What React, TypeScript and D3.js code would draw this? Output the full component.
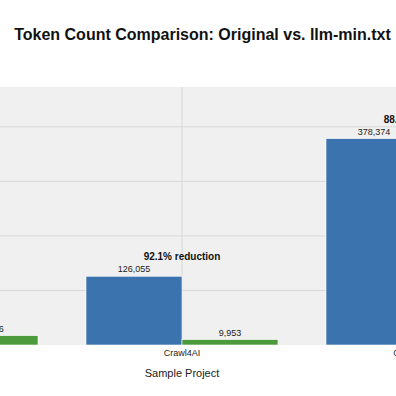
import React from "react";
import * as d3 from "d3";

const categories = ["Agno Framework", "Crawl4AI", "ComfyUI-Core"];
const originalTokens = [213840, 126055, 378374];
const minTokens = [17136, 9953, 43520];
const yTicks = [0, 100000, 200000, 300000, 400000];
const seriesColors = ["#3a73ae", "#4d9a3c"];

const W = 396;
const H = 396;

export default function App() {
  const plotTop = 87;
  const plotBottom = 345;
  const x = d3.scalePoint<string>().domain(categories).range([-58, 422]);
  const y = d3.scaleLinear().domain([0, 473000]).range([plotBottom, plotTop]);
  const barW = 96;
  const fmt = d3.format(",");
  const font = "'Liberation Sans', Arial, Helvetica, sans-serif";

  return (
    <svg
      width={W}
      height={H}
      style={{ position: "absolute", left: 0, top: 0, display: "block" }}
      fontFamily={font}
    >
      <rect x={0} y={0} width={W} height={H} fill="#ffffff" />
      <rect x={-200} y={plotTop} width={W + 400} height={plotBottom - plotTop} fill="#f0f0f0" />
      {yTicks.slice(1).map((t) => (
        <line key={t} x1={-200} x2={W + 200} y1={y(t)} y2={y(t)} stroke="#d8d8d8" strokeWidth={1} />
      ))}
      {categories.map((c) => (
        <line key={c} x1={x(c)} x2={x(c)} y1={plotTop} y2={plotBottom} stroke="#d8d8d8" strokeWidth={1} />
      ))}
      {categories.map((c, i) => {
        const cx = x(c) as number;
        const o = originalTokens[i];
        const m = minTokens[i];
        const red = ((1 - m / o) * 100).toFixed(1);
        const topY = Math.min(y(o), y(m));
        return (
          <g key={c}>
            <rect x={cx - barW} y={y(o)} width={barW} height={plotBottom - y(o)} fill={seriesColors[0]} stroke="#ffffff" strokeWidth={0.6} />
            <rect x={cx} y={y(m)} width={barW} height={plotBottom - y(m)} fill={seriesColors[1]} stroke="#ffffff" strokeWidth={0.6} />
            <text x={cx - barW / 2} y={y(o) - 4} textAnchor="middle" fontSize={9} fill="#222">
              {fmt(o)}
            </text>
            <text x={cx + barW / 2} y={y(m) - 4} textAnchor="middle" fontSize={9} fill="#222">
              {fmt(m)}
            </text>
            <text x={cx} y={topY - 16} textAnchor="middle" fontSize={10} fontWeight="bold" fill="#111">
              {red}% reduction
            </text>
            <text x={cx} y={356} textAnchor="middle" fontSize={9} fill="#222">
              {c}
            </text>
          </g>
        );
      })}
      <text x={182} y={376.5} textAnchor="middle" fontSize={11} fill="#222">
        Sample Project
      </text>
      <text x={202.5} y={40} textAnchor="middle" fontSize={16} fontWeight="bold" fill="#111">
        Token Count Comparison: Original vs. llm-min.txt
      </text>
    </svg>
  );
}
